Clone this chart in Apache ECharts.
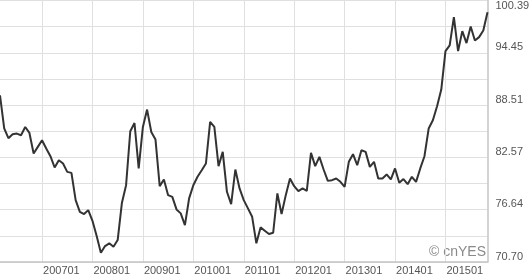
<!DOCTYPE html>
<html><head><meta charset="utf-8">
<script src="https://cdn.jsdelivr.net/npm/echarts@6/dist/echarts.min.js"></script>
<style>html,body{margin:0;padding:0;background:#fff}#c{width:530px;height:275px}</style>
</head><body><div id="c"></div>
<script>
// Monthly categories 200603 .. 201511
const months = [];
for (let y = 2006; y <= 2015; y++) {
  for (let m = 1; m <= 12; m++) {
    if ((y === 2006 && m < 3) || (y === 2015 && m > 11)) continue;
    months.push('' + y + (m < 10 ? '0' : '') + m);
  }
}
const values = [
  89.62, 85.88, 84.75, 85.20, 85.28, 85.09, 86.03, 85.35, 83.02, 83.77,
  84.52, 83.58, 82.71, 81.43, 82.26, 81.88, 80.93, 80.82, 77.72, 76.40,
  76.14, 76.59, 75.38, 73.65, 71.75, 72.51, 72.82, 72.43, 73.19, 77.39,
  79.42, 85.54, 86.48, 81.32, 86.03, 88.00, 85.46, 84.60, 79.31, 80.07,
  78.29, 78.10, 76.67, 76.22, 74.89, 77.92, 79.42, 80.37, 81.12, 81.88,
  86.60, 86.03, 81.58, 83.20, 78.67, 77.27, 81.20, 79.05, 77.72, 76.79,
  75.83, 72.82, 74.63, 74.25, 73.87, 74.02, 78.48, 76.14, 78.29, 80.18,
  79.31, 78.74, 79.05, 78.78, 83.09, 81.58, 82.63, 81.20, 79.91, 79.99,
  80.18, 79.80, 79.23, 82.07, 82.94, 81.69, 83.39, 83.20, 81.50, 82.07,
  80.18, 80.18, 80.64, 80.07, 81.32, 79.69, 80.11, 79.54, 80.37, 79.80,
  81.32, 82.71, 85.85, 86.79, 88.38, 90.27, 94.64, 95.29, 98.49, 94.64,
  96.91, 95.55, 97.44, 95.85, 96.23, 96.99, 99.06
];
const yTickLabels = ['70.70', '76.64', '82.57', '88.51', '94.45', '100.39'];
const yMin = 70.70, yMax = 100.385, yStep = 5.937;

const isJan = (i, v) => String(v).slice(4) === '01';
const chart = echarts.init(document.getElementById('c'), null, {renderer: 'canvas'});
chart.setOption({
  animation: false,
  backgroundColor: '#fff',
  grid: {left: 0, top: 0.5, right: 42.5, bottom: 13, containLabel: false, outerBoundsMode: 'none'},
  xAxis: {
    type: 'category', data: months, boundaryGap: false,
    axisLine: {show: true, lineStyle: {color: '#c4c4c4', width: 1.5}},
    axisTick: {show: false},
    axisLabel: {interval: isJan, align: 'left', margin: 3, color: '#555', fontSize: 11,
      fontFamily: 'Liberation Sans, Arial, sans-serif', padding: [0, 0, 0, 1]},
    splitLine: {show: true, interval: isJan, lineStyle: {color: '#e0e0e0', width: 1}}
  },
  yAxis: {
    type: 'value', position: 'right', min: yMin, max: yMax, interval: yStep, scale: true,
    axisLine: {show: true, lineStyle: {color: '#c4c4c4', width: 1.5}},
    axisTick: {show: false},
    axisLabel: {formatter: (v, i) => yTickLabels[i] || '', margin: 8, color: '#555', fontSize: 11,
      fontFamily: 'Liberation Sans, Arial, sans-serif', verticalAlign: 'bottom', verticalAlignMaxLabel: 'top'},
    splitLine: {show: true, lineStyle: {color: '#e0e0e0', width: 1}},
    minorTick: {show: false, splitNumber: 2},
    minorSplitLine: {show: true, lineStyle: {color: '#e0e0e0', width: 1}}
  },
  graphic: [{
    type: 'text', x: 486, y: 252, silent: true,
    style: {text: '\u00a9 cnYES', fill: '#8a8a8a', font: '14px "Liberation Sans", Arial, sans-serif',
      textAlign: 'right', textVerticalAlign: 'middle'}
  }],
  series: [{
    type: 'line', data: values, symbol: 'none', smooth: false,
    lineStyle: {color: '#333', width: 2}
  }]
});
</script></body></html>
